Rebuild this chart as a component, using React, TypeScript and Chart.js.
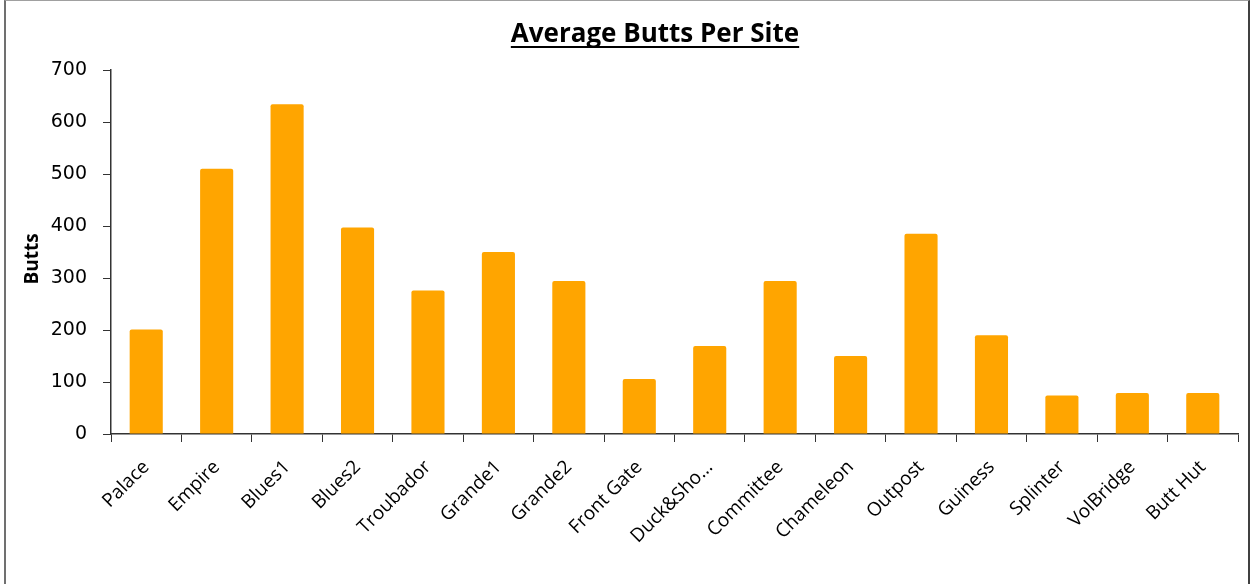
import React, { useEffect, useRef } from "react";
import { Chart, registerables } from "chart.js";

Chart.register(...registerables);

const categories = [
  "Palace", "Empire", "Blues1", "Blues2", "Troubador", "Grande1", "Grande2", "Front Gate",
  "Duck&Sho...", "Committee", "Chameleon", "Outpost", "Guiness", "Splinter", "VolBridge", "Butt Hut",
];
const butts = [201, 510, 634, 397, 276, 350, 294, 106, 169, 294, 150, 385, 190, 74, 79, 79];
const yTicks = [0, 100, 200, 300, 400, 500, 600, 700];
const chartTitle = "Average Butts Per Site";
const yTitle = "Butts";

const FONT = "'Open Sans', 'DejaVu Sans', sans-serif";

const decorPlugin = {
  id: "decor",
  afterDraw(chart: any) {
    const ctx = chart.ctx as CanvasRenderingContext2D;
    ctx.save();
    ctx.fillStyle = "#000";
    ctx.strokeStyle = "#000";
    ctx.font = `bold 26px ${FONT}`;
    ctx.textAlign = "center";
    ctx.textBaseline = "alphabetic";
    const cx = 655;
    const by = 42;
    ctx.fillText(chartTitle, cx, by);
    const w = ctx.measureText(chartTitle).width;
    ctx.lineWidth = 2;
    ctx.beginPath();
    ctx.moveTo(cx - w / 2, by + 5);
    ctx.lineTo(cx + w / 2, by + 5);
    ctx.stroke();

    ctx.translate(33, 259);
    ctx.rotate(-Math.PI / 2);
    ctx.font = `bold 19px ${FONT}`;
    ctx.textBaseline = "middle";
    ctx.fillText(yTitle, 0, 0);
    ctx.restore();
  },
};

export default function App() {
  const ref = useRef<HTMLCanvasElement | null>(null);
  useEffect(() => {
    if (!ref.current) return;
    const chart = new Chart(ref.current, {
      type: "bar",
      data: {
        labels: categories,
        datasets: [
          {
            data: butts,
            backgroundColor: "#FFA500",
            borderRadius: 2,
            borderSkipped: "bottom",
            barPercentage: 0.47,
            categoryPercentage: 1,
          },
        ],
      },
      options: {
        animation: false,
        responsive: true,
        maintainAspectRatio: false,
        layout: { padding: { left: 0, right: 18, top: 70, bottom: 0 } },
        plugins: { legend: { display: false }, title: { display: false }, tooltip: { enabled: false } },
        scales: {
          x: {
            offset: true,
            grid: { offset: true, drawOnChartArea: false, drawTicks: true, tickLength: 8, color: "#333", lineWidth: 1 },
            border: { display: true, color: "#333", width: 1.5 },
            ticks: {
              color: "#000",
              font: { family: FONT, size: 19 },
              maxRotation: 45,
              minRotation: 45,
              autoSkip: false,
              padding: 14,
            },
            afterFit(scale: any) {
              scale.height = 150;
            },
          },
          y: {
            min: 0,
            max: 700,
            afterBuildTicks(scale: any) {
              scale.ticks = yTicks.map((v) => ({ value: v }));
            },
            grid: { drawOnChartArea: false, drawTicks: true, tickLength: 8, color: "#333", lineWidth: 1 },
            border: { display: true, color: "#333", width: 1.5 },
            ticks: {
              color: "#000",
              font: { family: "'DejaVu Sans', Verdana, sans-serif", size: 19 },
              padding: 16,
            },
            afterFit(scale: any) {
              scale.width = 111;
            },
          },
        },
      },
      plugins: [decorPlugin],
    });
    return () => chart.destroy();
  }, []);

  return (
    <div style={{ position: "fixed", left: 0, top: 0, width: 1256, height: 584, background: "#fff" }}>
      <canvas ref={ref} />
      <div
        style={{
          position: "absolute",
          left: 4,
          top: 0,
          width: 1246,
          height: 600,
          borderLeft: "2px solid #707070",
          borderTop: "1px solid #a0a0a0",
          borderRight: "2px solid #404040",
          pointerEvents: "none",
          boxSizing: "border-box",
        }}
      />
    </div>
  );
}
